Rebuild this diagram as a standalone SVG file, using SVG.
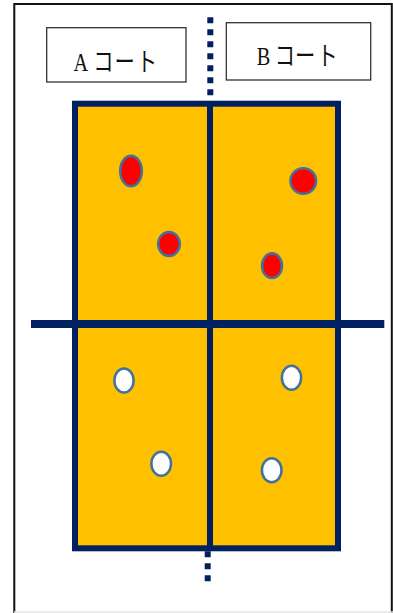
<svg xmlns="http://www.w3.org/2000/svg" width="393" height="613" viewBox="0 0 393 613">
<style>
.lbl{fill:#fff;stroke:#333;stroke-width:1.3}
.txt{font-family:"Liberation Serif","Noto Sans CJK JP",serif;font-size:26px;fill:#111}
.ln{stroke:#002060;fill:none}
.red{fill:#FF0000;stroke:#41719C;stroke-width:2.5}
.wht{fill:#FFFFFF;stroke:#41719C;stroke-width:2.5}
</style>
<rect x="0" y="0" width="393" height="613" fill="#fff"/>
<g id="frame">
<polyline points="14.3,613 14.3,4 391.8,4 391.8,613" fill="none" stroke="#111" stroke-width="2"/>
<line x1="14" y1="612" x2="393" y2="612" stroke="#e4e4e4" stroke-width="1.5"/>
</g>
<g id="labelA">
<rect class="lbl" x="46.7" y="27.7" width="139.3" height="54.3"/>
<text class="txt" transform="translate(0,70.7) scale(0.78,1)" y="0"><tspan x="94.2">A</tspan><tspan x="119.7">コ</tspan><tspan x="146.7">ー</tspan><tspan x="175.3">ト</tspan></text>
</g>
<g id="labelB">
<rect class="lbl" x="226.3" y="22.7" width="144.4" height="57.3"/>
<text class="txt" transform="translate(0,65) scale(0.78,1)" y="0"><tspan x="329.2">B</tspan><tspan x="352.2">コ</tspan><tspan x="378.3">ー</tspan><tspan x="406.8">ト</tspan></text>
</g>
<g id="court">
<rect x="75" y="103.7" width="263" height="444.6" fill="#FFC000" stroke="#002060" stroke-width="6"/>
</g>
<g id="connectors">
<line class="ln" x1="210.3" y1="17.3" x2="210.3" y2="96" stroke-width="6" stroke-dasharray="6 6"/>
<line class="ln" x1="207.7" y1="551.3" x2="207.7" y2="582" stroke-width="6" stroke-dasharray="6 6"/>
<line class="ln" x1="210" y1="103.7" x2="210" y2="548.3" stroke-width="6"/>
<line class="ln" x1="31" y1="324" x2="384.3" y2="324" stroke-width="8"/>
</g>
<g id="players">
<ellipse class="red" cx="131" cy="171" rx="10.8" ry="15.2"/>
<ellipse class="red" cx="303.3" cy="181" rx="12.8" ry="12.8"/>
<ellipse class="red" cx="169" cy="244" rx="10.8" ry="12"/>
<ellipse class="red" cx="272" cy="265.7" rx="10" ry="12.4"/>
<ellipse class="wht" cx="124" cy="380.5" rx="9.6" ry="12"/>
<ellipse class="wht" cx="291.5" cy="377.7" rx="9.6" ry="12"/>
<ellipse class="wht" cx="161.2" cy="463.7" rx="9.8" ry="12"/>
<ellipse class="wht" cx="271.7" cy="470.3" rx="9.8" ry="12"/>
</g>
</svg>
